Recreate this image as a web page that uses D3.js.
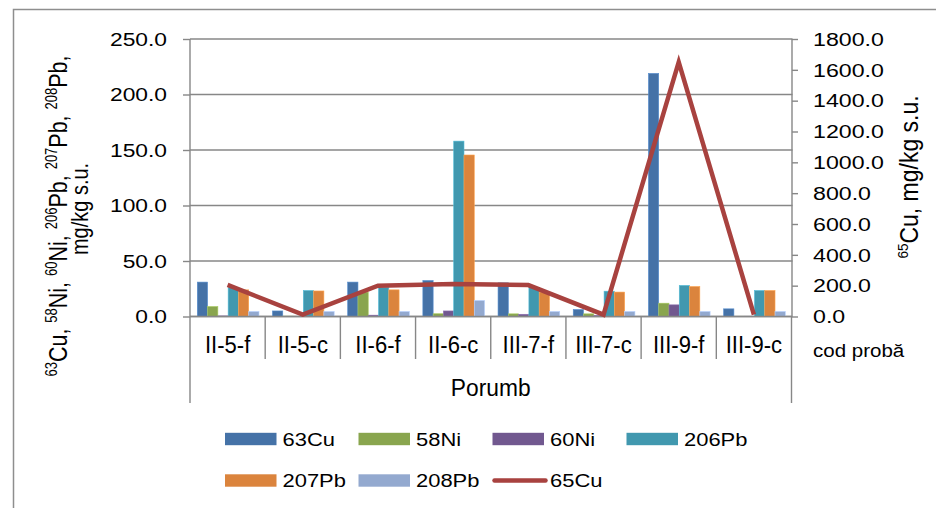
<!DOCTYPE html>
<html>
<head>
<meta charset="utf-8">
<script src="https://cdn.jsdelivr.net/npm/d3@7"></script>
<style>
  html, body { margin: 0; padding: 0; background: #fff; }
  svg { display: block; }
  text { font-family: "Liberation Sans", Arial, sans-serif; fill: #000; }
</style>
</head>
<body>
<svg id="chart" width="936" height="508"></svg>
<script>
// ---------- data ----------
const categories = ["II-5-f", "II-5-c", "II-6-f", "II-6-c", "III-7-f", "III-7-c", "III-9-f", "III-9-c"];
const groupLabel = "Porumb";
const barSeriesNames = ["63Cu", "58Ni", "60Ni", "206Pb", "207Pb", "208Pb"];
const cu63  = [31, 5, 31, 32.4, 30.3, 6.3, 219, 6.9];
const ni58  = [9, 0.3, 22, 2.5, 2.4, 2.4, 12, 0.2];
const ni60  = [0.5, 0.2, 1.2, 5, 2, 1, 10.5, 0.2];
const pb206 = [26, 23.4, 26, 158, 26, 22.8, 28, 23.4];
const pb207 = [24, 23, 24, 145.5, 22, 22, 27, 23.4];
const pb208 = [4.5, 4.5, 4.5, 14.4, 4.5, 4.5, 4.5, 4.5];
const cu65  = [205, 12, 200, 210, 204, 12, 1650, 12];
const lineSeriesName = "65Cu";
const leftTicks = [0, 50, 100, 150, 200, 250];
const rightTicks = [0, 200, 400, 600, 800, 1000, 1200, 1400, 1600, 1800];

const barSeries = [cu63, ni58, ni60, pb206, pb207, pb208];
const barColors = ["#4572A7", "#89A54E", "#71588F", "#4198AF", "#DB843D", "#93A9CF"];
const lineColor = "#A8423F";
const gray = "#878787";

// ---------- layout ----------
const svg = d3.select("#chart");
const L = 190, R = 791.5, T = 39, B = 316.5;

const x = d3.scaleBand().domain(categories).range([L, R]).paddingInner(0).paddingOuter(0);
const xs = d3.scaleBand().domain(barSeriesNames).range([7.3, x.bandwidth() - 6.2]);
const yL = d3.scaleLinear().domain([0, 250]).range([B, T]);
const yR = d3.scaleLinear().domain([0, 1800]).range([B, T]);

// helper: horizontally-stretched text
function stext(g, xp, yp, str, size, sx, anchor, rot) {
  const t = g.append("text")
    .attr("transform", `translate(${xp},${yp}) scale(${sx},1)` + (rot ? ` rotate(${rot})` : ""))
    .attr("font-size", size)
    .attr("text-anchor", anchor || "start");
  if (str !== null) t.text(str);
  return t;
}

// outer frame
svg.append("rect").attr("x", 13.5).attr("y", 9.5).attr("width", 940).attr("height", 520)
  .attr("fill", "none").attr("stroke", "#8e8e8e").attr("stroke-width", 1.5);

// gridlines (left axis)
svg.append("g").selectAll("line").data(leftTicks).join("line")
  .attr("x1", L).attr("x2", R + 1)
  .attr("y1", d => yL(d)).attr("y2", d => yL(d))
  .attr("stroke", gray).attr("stroke-width", 1.4);

// left axis
const gL = svg.append("g").attr("transform", `translate(${L},0)`)
  .call(d3.axisLeft(yL).tickValues(leftTicks).tickSize(7).tickFormat(() => ""));
gL.select(".domain").remove();
gL.selectAll("line").attr("stroke", gray).attr("stroke-width", 1.4);
leftTicks.forEach(v => stext(svg, 167, yL(v) + 6.8, d3.format(".1f")(v), 19, 1.2, "end"));

// right axis
const gR = svg.append("g").attr("transform", `translate(${R + 0.5},0)`)
  .call(d3.axisRight(yR).tickValues(rightTicks).tickSize(6).tickFormat(() => ""));
gR.select(".domain").remove();
gR.selectAll("line").attr("stroke", gray).attr("stroke-width", 1.4);
svg.append("line").attr("x1", R + 0.5).attr("x2", R + 0.5).attr("y1", T).attr("y2", B)
  .attr("stroke", gray).attr("stroke-width", 1.4);
rightTicks.forEach(v => stext(svg, 813, yR(v) + 6.8, d3.format(".1f")(v), 19, 1.22, "start"));

// category axis lines
const bounds = categories.map(c => x(c)).concat([R]);
svg.append("g").selectAll("line").data(bounds).join("line")
  .attr("x1", d => d).attr("x2", d => d)
  .attr("y1", B)
  .attr("y2", (d, i) => (i === 0 || i === bounds.length - 1) ? 403 : 359)
  .attr("stroke", gray).attr("stroke-width", 1.4);
svg.append("line").attr("x1", L).attr("x2", L).attr("y1", T).attr("y2", B)
  .attr("stroke", gray).attr("stroke-width", 1.4);

// bars
const gBars = svg.append("g");
barSeries.forEach((vals, si) => {
  gBars.append("g").selectAll("rect").data(vals).join("rect")
    .attr("x", (d, i) => x(categories[i]) + xs(barSeriesNames[si]))
    .attr("width", xs.bandwidth())
    .attr("y", d => yL(d))
    .attr("height", d => yL(0) - yL(d))
    .attr("fill", barColors[si])
    .attr("stroke", d3.color(barColors[si]).brighter(0.6))
    .attr("stroke-width", 0.6);
});

// baseline axis
svg.append("line").attr("x1", L).attr("x2", R + 0.5).attr("y1", B).attr("y2", B)
  .attr("stroke", gray).attr("stroke-width", 1.4);

// line series
const line = d3.line()
  .x((d, i) => x(categories[i]) + x.bandwidth() / 2)
  .y(d => yR(d));
svg.append("path").datum(cu65)
  .attr("d", line)
  .attr("fill", "none")
  .attr("stroke", lineColor)
  .attr("stroke-width", 4.5)
  .attr("stroke-linejoin", "miter")
  .attr("stroke-miterlimit", 10)
  .attr("stroke-linecap", "butt");

// category labels
categories.forEach(c => stext(svg, x(c) + x.bandwidth() / 2, 353, c, 24, 0.92, "middle"));
stext(svg, (L + R) / 2, 396, groupLabel, 24, 0.95, "middle");
stext(svg, 813, 357, "cod probă", 19, 1.08, "start");

// left axis title (rotated, two lines)
const t1 = stext(svg, 67, 216, null, 21.5, 1.2, "middle", -90);
const parts1 = [["63", "Cu, "], ["58", "Ni, "], ["60", "Ni, "], ["206", "Pb, "], ["207", "Pb, "], ["208", "Pb,"]];
parts1.forEach(([s, m]) => {
  t1.append("tspan").attr("font-size", 13).attr("dy", -8).text(s);
  t1.append("tspan").attr("font-size", 21.5).attr("dy", 8).text(m);
});
stext(svg, 88, 209, "mg/kg s.u.", 20, 1.2, "middle", -90);

// right axis title
const t2 = stext(svg, 918, 177, null, 23, 1.1, "middle", -90);
t2.append("tspan").attr("font-size", 13.5).attr("dy", -9).text("65");
t2.append("tspan").attr("font-size", 23).attr("dy", 9).text("Cu, mg/kg s.u.");

// legend
const legendItems = barSeriesNames.map((n, i) => ({ name: n, color: barColors[i], type: "bar" }))
  .concat([{ name: lineSeriesName, color: lineColor, type: "line" }]);
const colX = [225, 358.5, 492.5, 626.5];
const rowY = [439, 480.5];
legendItems.forEach((it, i) => {
  const cx = colX[i % 4], cy = rowY[Math.floor(i / 4)];
  if (it.type === "bar") {
    svg.append("rect").attr("x", cx).attr("y", cy - 6.2).attr("width", 51.5).attr("height", 12.4)
      .attr("fill", it.color);
  } else {
    svg.append("line").attr("x1", cx + 2).attr("x2", cx + 53).attr("y1", cy).attr("y2", cy)
      .attr("stroke", it.color).attr("stroke-width", 4.5).attr("stroke-linecap", "round");
  }
  stext(svg, cx + 57.5, cy + 6.8, it.name, 18.6, 1.18, "start");
});
</script>
</body>
</html>
